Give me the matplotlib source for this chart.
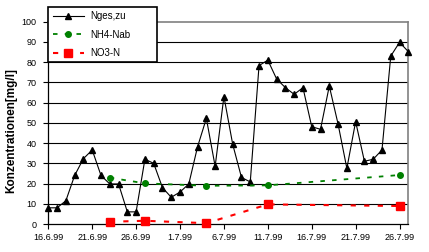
import numpy as np
import pandas as pd
import matplotlib
matplotlib.use("Agg")
import matplotlib.pyplot as plt
import matplotlib.dates as mdates

plt.rcParams['font.family'] = ['Liberation Sans', 'DejaVu Sans']

# daily inflow total nitrogen, 16.6.99 - 27.7.99
nges_dates = pd.date_range("1999-06-16", "1999-07-27", freq="D")
nges_zu = [8, 8, 11.5, 24, 32.3, 36.6, 24, 19.8, 19.8, 6,
           6, 32, 30, 18, 13.2, 15.8, 19.8, 38.2, 52.2, 28.5,
           63, 39.4, 23, 20.8, 78.3, 81, 71.7, 67.4, 64.1, 67.4,
           48.1, 46.8, 68.2, 49.4, 27.5, 50.6, 31, 32, 36.6, 83,
           89.8, 85.2]

# effluent samples
ab_dates = pd.to_datetime(["1999-06-23", "1999-06-27", "1999-07-04",
                           "1999-07-11", "1999-07-26"])
nh4_ab = [22.9, 20.1, 18.9, 19.1, 24.2]
no3_n = [1.1, 1.6, 0.4, 9.7, 8.9]

tick_dates = pd.to_datetime(["1999-06-16", "1999-06-21", "1999-06-26", "1999-07-01",
                             "1999-07-06", "1999-07-11", "1999-07-16", "1999-07-21",
                             "1999-07-26"])
tick_labels = ["16.6.99", "21.6.99", "26.6.99", "1.7.99", "6.7.99",
               "11.7.99", "16.7.99", "21.7.99", "26.7.99"]

fig = plt.figure(figsize=(4.29, 2.52), dpi=100)
ax = fig.add_axes([0.1126, 0.1111, 0.8392, 0.8028])

for v in range(10, 100, 10):
    ax.axhline(v, color='black', linewidth=0.8, zorder=1)

ax.plot(nges_dates, nges_zu, color='black', linewidth=0.8, marker='^',
        markersize=4.5, label='Nges,zu', clip_on=False, zorder=3)
ax.plot(ab_dates, nh4_ab, color='#008000', linewidth=1.3, linestyle=(0, (2.5, 4)),
        marker='o', markersize=4, label='NH4-Nab', clip_on=False, zorder=3)
ax.plot(ab_dates, no3_n, color='#ff0000', linewidth=1.5, linestyle=(0, (2.5, 4)),
        marker='s', markersize=6, label='NO3-N', clip_on=False, zorder=3)

ax.set_xlim(nges_dates[0], nges_dates[-1])
ax.set_ylim(0, 100)
ax.set_yticks(range(0, 101, 10))
ax.set_xticks(tick_dates)
ax.set_xticklabels(tick_labels)

ax.tick_params(axis='both', labelsize=6.5, length=3.5, width=0.8, direction='out',
               color='black')
ax.tick_params(axis='x', pad=3)
ax.tick_params(axis='y', pad=5)

for s in ['left', 'bottom']:
    ax.spines[s].set_color('black')
    ax.spines[s].set_linewidth(0.9)
for s in ['top', 'right']:
    ax.spines[s].set_color('#808080')
    ax.spines[s].set_linewidth(1.2)

ax.set_ylabel('Konzentrationen[mg/l]', fontsize=8.5, fontweight='bold')
ax.yaxis.set_label_coords(-0.085, 0.46)

leg = fig.legend(loc='upper left', bbox_to_anchor=(0.113, 0.758, 0.252, 0.214),
                 mode='expand', borderaxespad=0, fontsize=7, frameon=True,
                 fancybox=False, framealpha=1, edgecolor='black',
                 handlelength=3.2, handletextpad=0.6, labelspacing=0.85,
                 borderpad=0.45)
leg.get_frame().set_linewidth(1.2)

fig.savefig("out.png", dpi=100)
